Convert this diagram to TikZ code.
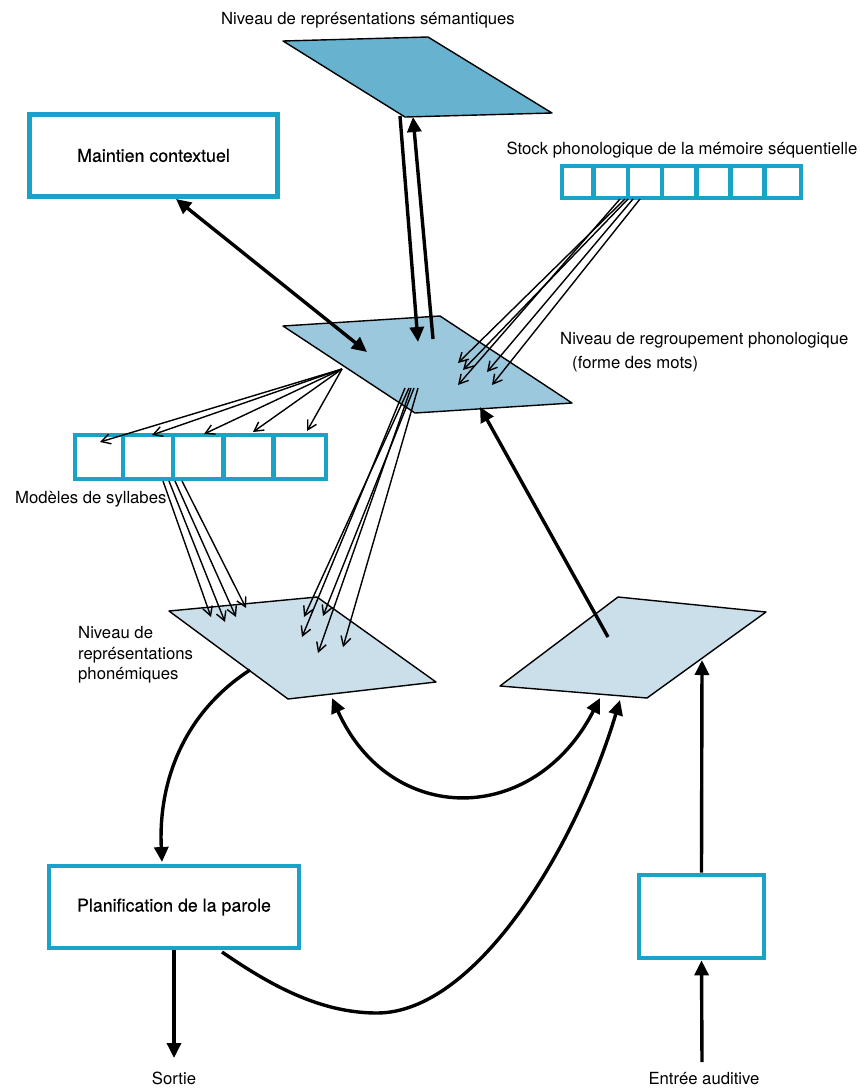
\documentclass[tikz,border=0pt]{standalone}
\usepackage{fontspec}
\setmainfont{TeX Gyre Heros}
\newfontfamily\medfont[FakeBold=0.4]{TeX Gyre Heros}
\usetikzlibrary{arrows.meta,calc}
\definecolor{tealb}{HTML}{1AA3C6}
\definecolor{semfill}{HTML}{67B2CF}
\definecolor{midfill}{HTML}{9BC8DC}
\definecolor{lowfill}{HTML}{CADFEA}
\tikzset{
  tealbox/.style={draw=tealb, line width=4.7pt, fill=white, inner sep=0pt},
  plane/.style={draw=black, line width=1.4pt, line join=round},
  bigarrow/.style={line width=3.4pt, -{Triangle[length=15pt,width=14pt]}},
  bigdouble/.style={line width=3.4pt, {Triangle[length=15pt,width=14pt]}-{Triangle[length=15pt,width=14pt]}},
  thinarrow/.style={line width=1.4pt, -{Straight Barb[length=9pt,width=10pt,line width=1.4pt]}},
  lab/.style={font=\fontsize{16.7}{20}\selectfont, inner sep=0pt},
  boxlab/.style={font=\medfont\fontsize{17.8}{20}\selectfont}
}
\begin{document}
\begin{tikzpicture}[x=1pt,y=-1pt]
\useasboundingbox (0,0) rectangle (860,1088);

% planes
\filldraw[plane, fill=semfill] (283,41) -- (428,37) -- (552,113) -- (405,117) -- cycle;
\filldraw[plane, fill=midfill] (283,326) -- (440,316) -- (572,403) -- (415,413) -- cycle;
\filldraw[plane, fill=lowfill] (169,611) -- (317,597) -- (436,682) -- (288,699) -- cycle;
\filldraw[plane, fill=lowfill] (500,686) -- (618,597) -- (766,612) -- (647,698) -- cycle;

% boxes
\node[tealbox, minimum width=248pt, minimum height=82pt, boxlab] (maint) at (153.5,155.5) {Maintien contextuel};
\node[tealbox, minimum width=250pt, minimum height=82pt, boxlab] (plan) at (174,907) {Planification de la parole};
\node[tealbox, minimum width=125pt, minimum height=83pt] (audbox) at (701.5,916.5) {};

% stock cells
\node[tealbox, minimum width=239pt, minimum height=32pt] (stock) at (681.5,182) {};
\foreach \i in {1,...,6} {\draw[draw=tealb, line width=4.7pt] ($(stock.north west)+(\i*34.143,0)$) -- ($(stock.south west)+(\i*34.143,0)$);}
% syllable cells
\node[tealbox, minimum width=251pt, minimum height=44pt] (syll) at (200.5,457) {};
\foreach \i in {1,...,4} {\draw[draw=tealb, line width=4.7pt] ($(syll.north west)+(\i*50.2,0)$) -- ($(syll.south west)+(\i*50.2,0)$);}

% labels
\node[lab, anchor=base] (semlab) at (368,24) {Niveau de représentations sémantiques};
\node[lab, anchor=base] (stocklab) at (682,154) {Stock phonologique de la mémoire séquentielle};
\node[lab, anchor=base west] (reglab) at (560,344) {Niveau de regroupement phonologique};
\node[lab, anchor=base west] (reglab2) at (572,368) {(forme des mots)};
\node[lab, anchor=base west] (sylllab) at (15,503) {Modèles de syllabes};
\node[lab, anchor=base west] (phon1) at (78,638) {Niveau de};
\node[lab, anchor=base west] (phon2) at (78,659) {représentations};
\node[lab, anchor=base west] (phon3) at (78,679) {phonémiques};
\node[lab, anchor=base] (sortie) at (174,1084) {Sortie};
\node[lab, anchor=base] (entree) at (704,1084) {Entrée auditive};

% coordinates
\coordinate (semA) at (400,116);
\coordinate (midA) at (418,342);
\coordinate (midB) at (433,339);
\coordinate (semB) at (413,117);
\coordinate (maintE) at (176,199);
\coordinate (midC) at (367,352);
\coordinate (rightP) at (608,637);
\coordinate (midD) at (480,407);
\coordinate (rightIn) at (702,660);
\coordinate (entreeS) at (702,1062);
\coordinate (phonOut) at (250,670);
\coordinate (planIn) at (162,862);
\coordinate (phonIn) at (332,698);
\coordinate (rightIn2) at (600,698);
\coordinate (planOut) at (222,952);
\coordinate (rightIn3) at (620,700);
\coordinate (sortieE) at (174,1058);
\coordinate (midS) at (342,369);

% thick connectors
\draw[bigarrow] (semA) -- (midA);
\draw[bigarrow] (midB) -- (semB);
\draw[bigdouble] (maintE) -- (midC);
\draw[bigarrow] (rightP) -- (midD);
\draw[bigarrow] (audbox.north) -- (rightIn);
\draw[bigarrow] (entreeS) -- (audbox.south);
\draw[bigarrow] (plan.south) -- (sortieE);
\draw[bigarrow] (phonOut) .. controls (185,712) and (158,780) .. (planIn);
\draw[bigdouble] (phonIn) .. controls (390,827) and (534,827) .. (rightIn2);
\draw[bigarrow] (planOut) .. controls (270,985) and (320,1013) .. (377,1013) .. controls (475,1013) and (575,850) .. (rightIn3);

% thin connectors: middle -> syllables
\foreach \ex/\ey in {100/442, 152/435, 204/434, 253/432, 307/431} {\draw[thinarrow] (midS) -- (\ex,\ey);}
% syllables -> phonemic
\foreach \sx/\ex/\ey in {163/211/617, 169/225/622, 175/236/617, 182/246/608} {\draw[thinarrow] (\sx,481) -- (\ex,\ey);}
% middle -> phonemic
\foreach \sx/\ex/\ey in {405/302/637, 409/304/617, 411/318/653, 414/323/616, 418/343/647} {\draw[thinarrow] (\sx,388) -- (\ex,\ey);}
% stock -> middle
\foreach \sx/\ex/\ey in {620/458/385, 625/458/363, 628/463/370, 633/487/372, 640/492/385} {\draw[thinarrow] (\sx,199) -- (\ex,\ey);}
\end{tikzpicture}
\end{document}
